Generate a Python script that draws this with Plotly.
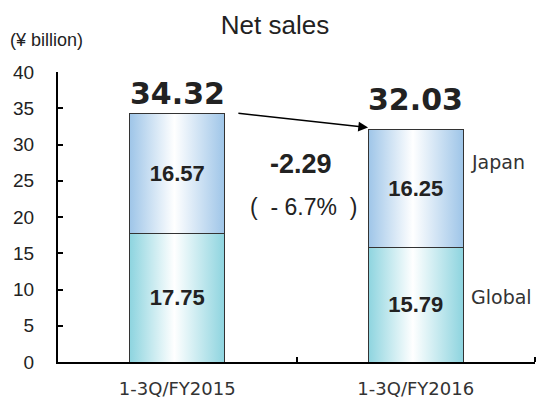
import plotly.graph_objects as go

# ---- data ----
categories = ["1-3Q/FY2015", "1-3Q/FY2016"]
global_sales = [17.75, 15.79]
japan_sales = [16.57, 16.25]
totals = [34.32, 32.03]
y_ticks = [0, 5, 10, 15, 20, 25, 30, 35, 40]
series_names = ["Global", "Japan"]

# ---- style ----
BAR_W = 0.4
TXT = "#222222"
edge_colors = {"Global": "#8dd4df", "Japan": "#9ec5e8"}
xpos = list(range(len(categories)))

fig = go.Figure()

# gradient fills (under the bars)
for name, vals, bases in [("Global", global_sales, [0] * len(global_sales)),
                          ("Japan", japan_sales, global_sales)]:
    for i, (v, b) in enumerate(zip(vals, bases)):
        x0, x1 = xpos[i] - BAR_W / 2, xpos[i] + BAR_W / 2
        fig.add_trace(go.Scatter(
            x=[x0, x1, x1, x0, x0], y=[b, b, b + v, b + v, b],
            mode="lines", fill="toself", line=dict(width=0),
            fillgradient=dict(type="horizontal",
                              colorscale=[[0, edge_colors[name]], [0.47, "#ffffff"],
                                          [1, edge_colors[name]]]),
            hoverinfo="skip", showlegend=False, xaxis="x", yaxis="y"))

# real bars (outline + labels) on an overlay axis so they sit on top
for name, vals in [("Global", global_sales), ("Japan", japan_sales)]:
    fig.add_trace(go.Bar(
        x=xpos, y=vals, name=name, width=BAR_W,
        marker=dict(color="rgba(0,0,0,0)", line=dict(color="#333333", width=1)),
        texttemplate="%{y:.2f}", textposition="inside", insidetextanchor="middle",
        textfont=dict(family="Liberation Sans", size=22, color=TXT, weight="bold"),
        showlegend=False, xaxis="x", yaxis="y2"))

fig.update_layout(
    barmode="stack",
    width=536, height=401,
    margin=dict(l=58, r=1, t=72, b=39),
    paper_bgcolor="white", plot_bgcolor="white",
    title=dict(text="Net sales", x=275 / 536, xanchor="center", y=1 - 25 / 401,
               yanchor="middle",
               font=dict(family="Liberation Sans", size=26, color=TXT)),
    xaxis=dict(type="linear", range=[-0.5, 1.5], tickvals=xpos, ticktext=categories,
               ticks="", showgrid=False, zeroline=False, showline=True,
               linecolor="black", linewidth=2, automargin=False,
               minor=dict(tickvals=[0.5, 1.5], ticks="inside", ticklen=5,
                          tickcolor="black", tickwidth=1.5, showgrid=False),
               tickfont=dict(family="DejaVu Sans", size=18, color="#333333"),
               ticklabelstandoff=9),
    yaxis=dict(range=[0, 40], tickvals=y_ticks, ticks="inside", ticklen=5,
               tickwidth=1.5, tickcolor="black", showgrid=False, zeroline=False,
               showline=True, linecolor="black", linewidth=2, automargin=False,
               tickfont=dict(family="Liberation Sans", size=19, color=TXT),
               ticklabelstandoff=18),
    yaxis2=dict(range=[0, 40], overlaying="y", visible=False),
)

annotations = []
# unit label
annotations.append(dict(text="(¥ billion)", xref="paper", yref="paper",
                        x=-50 / 477, y=1 + 32 / 290, xanchor="left", yanchor="middle",
                        showarrow=False,
                        font=dict(family="Liberation Sans", size=18, color=TXT)))
# totals
total_shift = [20, 30]
for i, t in enumerate(totals):
    annotations.append(dict(text=f"{t:.2f}", x=xpos[i], y=t, yshift=total_shift[i],
                            xanchor="center", yanchor="middle", showarrow=False,
                            font=dict(family="DejaVu Sans", size=30, color=TXT,
                                      weight="bold")))
# arrow between totals
annotations.append(dict(text="", x=xpos[1] - BAR_W / 2, y=totals[1] + 0.3,
                        ax=xpos[0] + BAR_W / 2 + 0.05, ay=totals[0],
                        axref="x", ayref="y", showarrow=True, arrowhead=2,
                        arrowsize=1.3, arrowwidth=1.5, arrowcolor="black", standoff=0))
# change
diff = totals[1] - totals[0]
pct = diff / totals[0] * 100
annotations.append(dict(text=f"{diff:.2f}", x=0.52, y=27.3, showarrow=False,
                        xanchor="center", yanchor="middle",
                        font=dict(family="Liberation Sans", size=27, color=TXT,
                                  weight="bold")))
annotations.append(dict(text=f"(  - {abs(pct):.1f}%  )", x=0.53, y=21.4,
                        showarrow=False, xanchor="center", yanchor="middle",
                        font=dict(family="Liberation Sans", size=23, color=TXT)))
# series labels next to second bar
series_mid = [global_sales[1] / 2, global_sales[1] + japan_sales[1] / 2]
series_shift = [8, 27]
for name, m, s in zip(series_names, series_mid, series_shift):
    annotations.append(dict(text=name, x=xpos[1] + BAR_W / 2, xshift=6, y=m, yshift=s,
                            xanchor="left", yanchor="middle", showarrow=False,
                            font=dict(family="DejaVu Sans", size=19, color="#333333")))

fig.update_layout(annotations=annotations)
fig.write_html("out.html")
